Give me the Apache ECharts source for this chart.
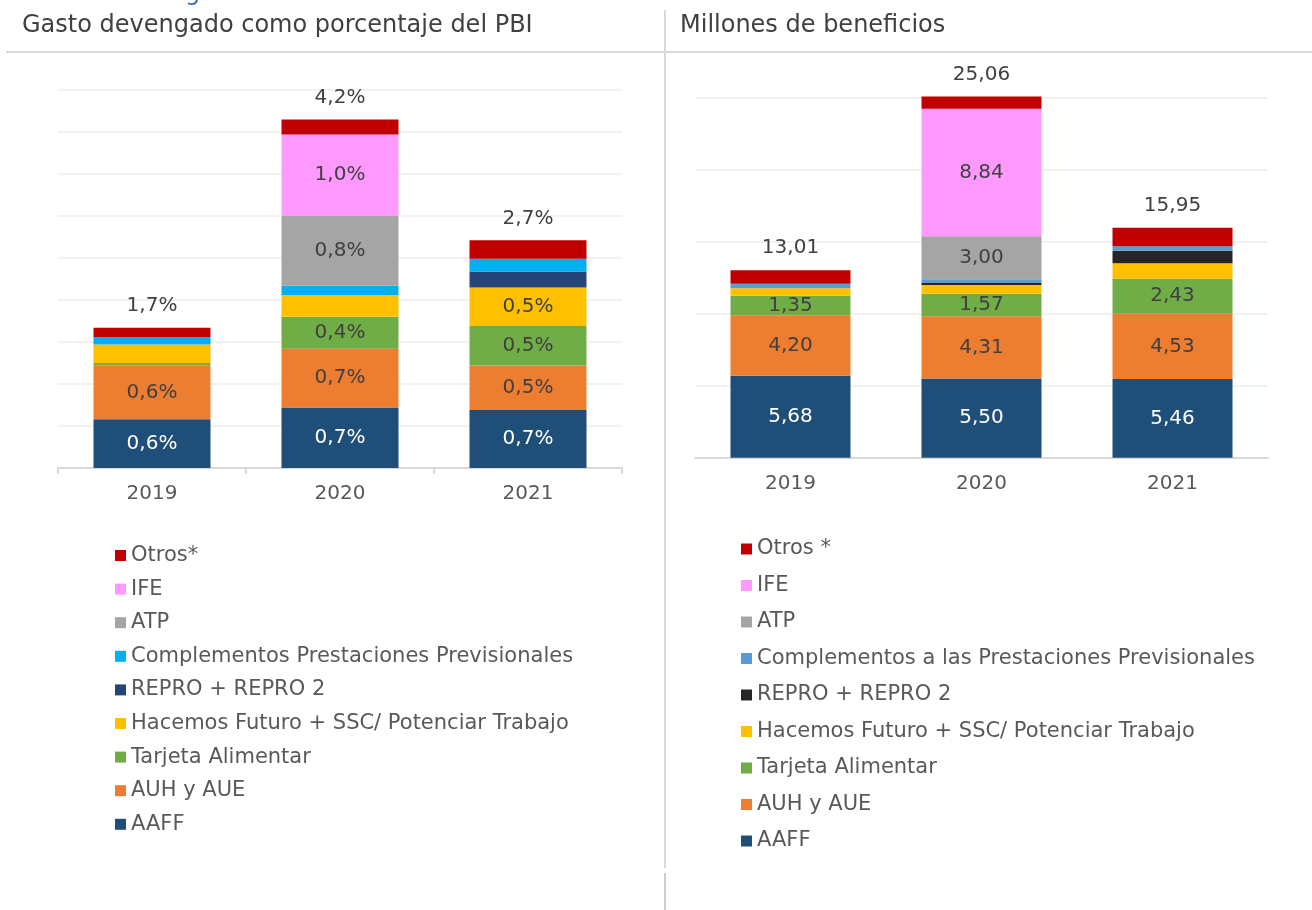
<!DOCTYPE html>
<html>
<head>
<meta charset="utf-8">
<script src="https://cdn.jsdelivr.net/npm/echarts@6/dist/echarts.min.js"></script>
<style>
html,body{margin:0;padding:0;background:#ffffff;}
#chart{width:1312px;height:910px;}
</style>
</head>
<body>
<div id="chart"></div>
<script>
// ---- Data ----
const categories = ['2019', '2020', '2021'];

// Left: Gasto devengado como porcentaje del PBI (%)
const pbiAAFF         = [0.58, 0.72, 0.69];
const pbiAUH          = [0.64, 0.70, 0.53];
const pbiTarjeta      = [0.03, 0.38, 0.47];
const pbiHacemos      = [0.22, 0.26, 0.46];
const pbiRepro        = [0.00, 0.00, 0.19];
const pbiComplementos = [0.09, 0.11, 0.15];
const pbiATP          = [0.00, 0.83, 0.00];
const pbiIFE          = [0.00, 0.97, 0.00];
const pbiOtros        = [0.11, 0.18, 0.22];
const pbiTotals       = [1.7, 4.2, 2.7];

// Right: Millones de beneficios
const benAAFF         = [5.68, 5.50, 5.46];
const benAUH          = [4.20, 4.31, 4.53];
const benTarjeta      = [1.35, 1.57, 2.43];
const benHacemos      = [0.53, 0.60, 1.06];
const benRepro        = [0.00, 0.18, 0.88];
const benComplementos = [0.30, 0.21, 0.30];
const benATP          = [0.00, 3.00, 0.00];
const benIFE          = [0.00, 8.84, 0.00];
const benOtros        = [0.95, 0.85, 1.29];
const benTotals       = [13.01, 25.06, 15.95];

const leftNames = ['Otros*', 'IFE', 'ATP', 'Complementos Prestaciones Previsionales', 'REPRO + REPRO 2',
  'Hacemos Futuro + SSC/ Potenciar Trabajo', 'Tarjeta Alimentar', 'AUH y AUE', 'AAFF'];
const rightNames = ['Otros *', 'IFE', 'ATP', 'Complementos a las Prestaciones Previsionales', 'REPRO + REPRO 2',
  'Hacemos Futuro + SSC/ Potenciar Trabajo', 'Tarjeta Alimentar', 'AUH y AUE', 'AAFF'];

// ---- Styles ----
const FONT = 'DejaVu Sans';
const C = {
  otros: '#C00000', ife: '#FF99FF', atp: '#A5A5A5',
  compL: '#00B0F0', compR: '#5B9BD5',
  reproL: '#264478', reproR: '#262626',
  hacemos: '#FFC000', tarjeta: '#70AD47', auh: '#ED7D31', aaff: '#1F4E79'
};
const leftColors  = [C.otros, C.ife, C.atp, C.compL, C.reproL, C.hacemos, C.tarjeta, C.auh, C.aaff];
const rightColors = [C.otros, C.ife, C.atp, C.compR, C.reproR, C.hacemos, C.tarjeta, C.auh, C.aaff];

const fmtPct = v => v.toFixed(1).replace('.', ',') + '%';
const fmtNum = v => v.toFixed(2).replace('.', ',');

function seg(name, data, color, idx, opts) {
  const s = {
    name: name, type: 'bar', stack: 'g' + idx, xAxisIndex: idx, yAxisIndex: idx,
    data: data, barWidth: idx === 0 ? 117 : 120,
    itemStyle: { color: color },
    clip: false,
    label: { show: false }
  };
  if (opts && opts.label) {
    s.label = {
      show: true, position: 'inside', fontFamily: FONT, fontSize: 20,
      color: opts.labelColor || '#404040',
      formatter: p => (p.value >= opts.min ? opts.fmt(p.value) : '')
    };
  }
  if (opts && opts.totals) {
    s.label = {
      show: true, position: 'top', distance: 12, fontFamily: FONT, fontSize: 20,
      color: '#404040',
      formatter: p => opts.fmt(opts.totals[p.dataIndex])
    };
  }
  return s;
}

const series = [
  // left
  seg('AAFF', pbiAAFF, C.aaff, 0, { label: true, min: 0.3, fmt: fmtPct, labelColor: '#ffffff' }),
  seg('AUH y AUE', pbiAUH, C.auh, 0, { label: true, min: 0.3, fmt: fmtPct }),
  seg('Tarjeta Alimentar', pbiTarjeta, C.tarjeta, 0, { label: true, min: 0.3, fmt: fmtPct }),
  seg('Hacemos Futuro + SSC/ Potenciar Trabajo', pbiHacemos, C.hacemos, 0, { label: true, min: 0.3, fmt: fmtPct }),
  seg('REPRO + REPRO 2', pbiRepro, C.reproL, 0),
  seg('Complementos Prestaciones Previsionales', pbiComplementos, C.compL, 0),
  seg('ATP', pbiATP, C.atp, 0, { label: true, min: 0.3, fmt: fmtPct }),
  seg('IFE', pbiIFE, C.ife, 0, { label: true, min: 0.3, fmt: fmtPct }),
  seg('Otros*', pbiOtros, C.otros, 0, { totals: pbiTotals, fmt: fmtPct }),
  // right
  seg('AAFF', benAAFF, C.aaff, 1, { label: true, min: 0.01, fmt: fmtNum, labelColor: '#ffffff' }),
  seg('AUH y AUE', benAUH, C.auh, 1, { label: true, min: 0.01, fmt: fmtNum }),
  seg('Tarjeta Alimentar', benTarjeta, C.tarjeta, 1, { label: true, min: 0.01, fmt: fmtNum }),
  seg('Hacemos Futuro + SSC/ Potenciar Trabajo', benHacemos, C.hacemos, 1),
  seg('REPRO + REPRO 2', benRepro, C.reproR, 1),
  seg('Complementos a las Prestaciones Previsionales', benComplementos, C.compR, 1),
  seg('ATP', benATP, C.atp, 1, { label: true, min: 0.01, fmt: fmtNum }),
  seg('IFE', benIFE, C.ife, 1, { label: true, min: 0.01, fmt: fmtNum }),
  seg('Otros *', benOtros, C.otros, 1, { totals: benTotals, fmt: fmtNum })
];

const axisLabelStyle = { fontFamily: FONT, fontSize: 20, color: '#595959', margin: 16 };
const gridLine = { show: true, lineStyle: { color: '#eeeeee', width: 1.5 } };

const legendBase = {
  orient: 'vertical', icon: 'rect', itemWidth: 11, itemHeight: 11, padding: 0,
  textStyle: { fontFamily: FONT, fontSize: 21, color: '#595959', lineHeight: 21 },
  selectedMode: false
};

const option = {
  backgroundColor: '#ffffff',
  animation: false,
  grid: [
    { left: 58, top: 90, width: 564, height: 378 },
    { left: 695, top: 97.3, width: 573, height: 360.4 }
  ],
  xAxis: [
    { type: 'category', gridIndex: 0, data: categories,
      axisLine: { lineStyle: { color: '#d9d9d9', width: 2 } },
      axisTick: { show: true, length: 6, lineStyle: { color: '#d9d9d9', width: 2 } },
      axisLabel: axisLabelStyle },
    { type: 'category', gridIndex: 1, data: categories,
      axisLine: { lineStyle: { color: '#d9d9d9', width: 2 } },
      axisTick: { show: false },
      axisLabel: axisLabelStyle }
  ],
  yAxis: [
    { type: 'value', gridIndex: 0, min: 0, max: 4.5, interval: 0.5,
      axisLabel: { show: false }, axisLine: { show: false }, axisTick: { show: false }, splitLine: gridLine },
    { type: 'value', gridIndex: 1, min: 0, max: 25, interval: 5,
      axisLabel: { show: false }, axisLine: { show: false }, axisTick: { show: false }, splitLine: gridLine }
  ],
  legend: [
    Object.assign({}, legendBase, {
      left: 115, top: 545, itemGap: 12.6,
      data: leftNames.map((n, i) => ({ name: n, itemStyle: { color: leftColors[i] } }))
    }),
    Object.assign({}, legendBase, {
      left: 741, top: 538.5, itemGap: 15.5,
      data: rightNames.map((n, i) => ({ name: n, itemStyle: { color: rightColors[i] } }))
    })
  ],
  graphic: [
    { type: 'line', shape: { x1: 6, y1: 52, x2: 1312, y2: 52 }, style: { stroke: '#d9d9d9', lineWidth: 2 } },
    { type: 'line', shape: { x1: 665, y1: 10, x2: 665, y2: 868 }, style: { stroke: '#d9d9d9', lineWidth: 2 } },
    { type: 'line', shape: { x1: 665, y1: 873, x2: 665, y2: 910 }, style: { stroke: '#cccccc', lineWidth: 2 } },
    { type: 'text', left: 22, top: 14, style: { text: 'Gasto devengado como porcentaje del PBI', fontFamily: FONT, fontSize: 24, fill: '#404040' } },
    { type: 'text', left: 680, top: 14, style: { text: 'Millones de beneficios', fontFamily: FONT, fontSize: 24, fill: '#404040' } },
    { type: 'text', left: 185, top: -18, style: { text: 'g', fontFamily: FONT, fontSize: 24, fill: '#2E75B6' } }
  ],
  series: series
};

const chart = echarts.init(document.getElementById('chart'), null, { renderer: 'canvas' });
chart.setOption(option);
</script>
</body>
</html>
